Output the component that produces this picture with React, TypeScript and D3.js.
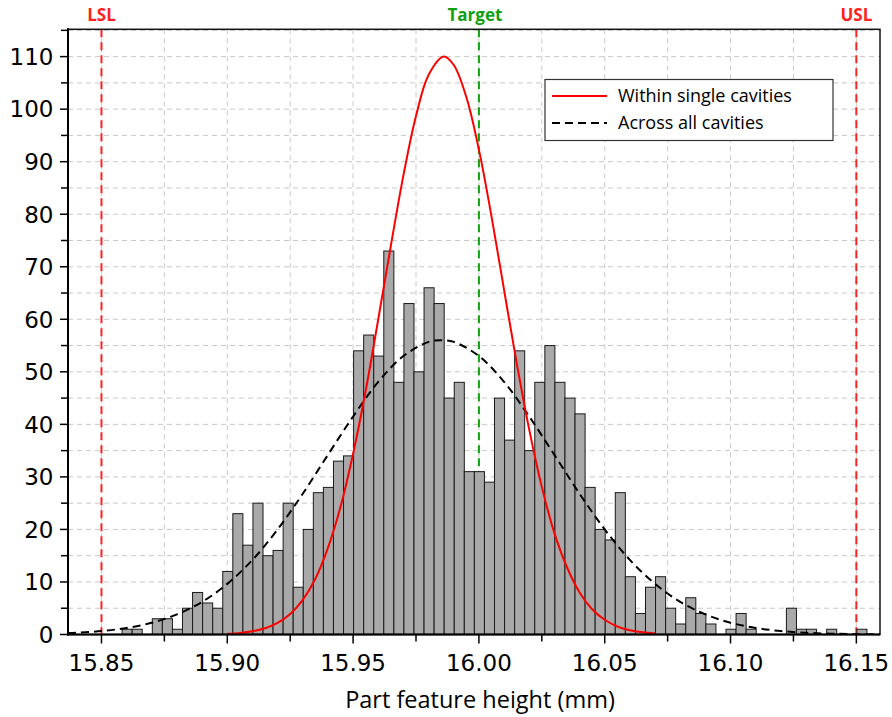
import React from "react"
import * as d3 from "d3"

// histogram bins (mm), counts
const binStart = 15.8582
const binWidth = 0.004
const binCounts = [
    1, 1, 0, 3, 3, 1, 5, 8, 6, 5,
    12, 23, 17, 25, 15, 16, 25, 9, 20, 27,
    28, 33, 34, 54, 57, 53, 73, 48, 63, 50,
    66, 63, 45, 48, 31, 31, 29, 45, 37, 54,
    35, 48, 55, 48, 45, 42, 28, 20, 18, 27,
    11, 4, 9, 11, 5, 2, 7, 4, 2, 0,
    1, 4, 1, 0, 0, 0, 5, 1, 1, 0,
    1, 0, 0, 1,
]

// fitted curve "Within single cavities"
const withinX = [
    15.9, 15.905, 15.91, 15.915, 15.92, 15.925, 15.93, 15.935, 15.94, 15.945,
    15.95, 15.955, 15.96, 15.965, 15.97, 15.975, 15.98, 15.986, 15.99, 15.995,
    16.0, 16.005, 16.01, 16.015, 16.02, 16.025, 16.03, 16.035, 16.04, 16.045,
    16.05, 16.055, 16.06, 16.065, 16.07,
]
const withinY = [
    0.14, 0.3, 0.62, 1.19, 2.2, 3.89, 6.59, 10.6, 16.5, 24.3,
    34.4, 46.4, 60.0, 74.0, 87.4, 98.7, 106.5, 110.0, 108.4, 102.3,
    92.3, 79.6, 65.6, 51.7, 39.0, 28.1, 19.3, 12.8, 8.0, 4.8,
    2.8, 1.53, 0.81, 0.41, 0.2,
]

// fitted curve "Across all cavities"
const acrossX = [
    15.8367, 15.84, 15.85, 15.86, 15.87, 15.88, 15.89, 15.9, 15.91, 15.92,
    15.93, 15.94, 15.95, 15.96, 15.97, 15.98, 15.985, 15.99, 16.0, 16.01,
    16.02, 16.03, 16.04, 16.05, 16.06, 16.07, 16.08, 16.09, 16.1, 16.11,
    16.12, 16.13, 16.14, 16.15, 16.1594,
]
const acrossY = [
    0.27, 0.33, 0.66, 1.24, 2.23, 3.82, 6.21, 9.64, 14.2, 20.0,
    26.8, 34.2, 41.5, 48.1, 53.0, 55.7, 56.0, 55.7, 53.0, 48.1,
    41.5, 34.2, 26.8, 20.0, 14.2, 9.64, 6.21, 3.82, 2.23, 1.24,
    0.66, 0.33, 0.16, 0.07, 0.03,
]

const specLabels = ["LSL", "Target", "USL"]
const specValues = [15.85, 16.0, 16.15]

const xTicks = [15.85, 15.9, 15.95, 16.0, 16.05, 16.1, 16.15]
const xMinorTicks = [15.875, 15.925, 15.975, 16.025, 16.075, 16.125]
const yTicks = [0, 10, 20, 30, 40, 50, 60, 70, 80, 90, 100, 110]
const yMinorTicks = [5, 15, 25, 35, 45, 55, 65, 75, 85, 95, 105, 115]

const legendLabels = ["Within single cavities", "Across all cavities"]

const W = 892
const H = 717
const margin = { top: 29.3, right: 12, bottom: 82.5, left: 68 }

const App = () => {
    const x = d3
        .scaleLinear()
        .domain([15.8367, 16.1594])
        .range([margin.left, W - margin.right])
    const y = d3
        .scaleLinear()
        .domain([0, 115.2])
        .range([H - margin.bottom, margin.top])

    const left = margin.left
    const right = W - margin.right
    const top = margin.top
    const bottom = H - margin.bottom

    const bins = binCounts.map((c, i) => ({
        x0: binStart + i * binWidth,
        x1: binStart + (i + 1) * binWidth,
        count: c,
    }))

    const line = d3
        .line<[number, number]>()
        .x((d) => x(d[0]))
        .y((d) => y(d[1]))
        .curve(d3.curveCatmullRom.alpha(0.5))

    const withinPath = line(withinX.map((v, i) => [v, withinY[i]]))
    const acrossPath = line(acrossX.map((v, i) => [v, acrossY[i]]))

    const specColors = ["#ff2020", "#10a010", "#ff2020"]
    const gridX = d3.range(0, 13).map((i) => 15.85 + i * 0.025)
    const gridY = d3.range(5, 116, 5)

    const tickFont = "'DejaVu Sans', sans-serif"
    const textFont = "'Open Sans', sans-serif"

    return (
        <svg
            width={W}
            height={H}
            style={{ position: "absolute", left: 0, top: 0, background: "#fff" }}
        >
            <defs>
                <clipPath id="plot">
                    <rect x={left} y={top} width={right - left} height={bottom - top} />
                </clipPath>
            </defs>

            {/* grid */}
            <g stroke="#c8c8c8" strokeWidth={1} strokeDasharray="5,4">
                {gridX.map((v) => (
                    <line key={"gx" + v} x1={x(v)} x2={x(v)} y1={top} y2={bottom} />
                ))}
                {gridY.map((v) => (
                    <line key={"gy" + v} x1={left} x2={right} y1={y(v)} y2={y(v)} />
                ))}
            </g>

            {/* spec limit lines */}
            {specValues.map((v, i) => (
                <line
                    key={"spec" + i}
                    x1={x(v)}
                    x2={x(v)}
                    y1={top}
                    y2={bottom}
                    stroke={specColors[i]}
                    strokeWidth={2}
                    strokeDasharray="8,5"
                />
            ))}

            {/* histogram */}
            <g fill="#a9a9a9" stroke="#1a1a1a" strokeWidth={1}>
                {bins
                    .filter((b) => b.count > 0)
                    .map((b, i) => (
                        <rect
                            key={"bar" + i}
                            x={x(b.x0)}
                            y={y(b.count)}
                            width={x(b.x1) - x(b.x0)}
                            height={y(0) - y(b.count)}
                        />
                    ))}
            </g>

            {/* fitted curves */}
            <g clipPath="url(#plot)" fill="none">
                <path d={acrossPath || ""} stroke="#000" strokeWidth={2} strokeDasharray="8,5" />
                <path d={withinPath || ""} stroke="#ff0000" strokeWidth={2} />
            </g>

            {/* frame */}
            <rect
                x={left}
                y={top}
                width={right - left}
                height={bottom - top}
                fill="none"
                stroke="#111"
                strokeWidth={1.5}
            />
            <line x1={left} x2={left} y1={top - 1} y2={bottom + 1} stroke="#000" strokeWidth={2} />
            <line x1={left - 1} x2={right} y1={bottom} y2={bottom} stroke="#000" strokeWidth={2} />

            {/* x axis */}
            <g stroke="#000" strokeWidth={1.5}>
                {xTicks.map((v) => (
                    <line key={"xt" + v} x1={x(v)} x2={x(v)} y1={bottom} y2={bottom + 9} />
                ))}
                {xMinorTicks.map((v) => (
                    <line key={"xm" + v} x1={x(v)} x2={x(v)} y1={bottom} y2={bottom + 7} />
                ))}
            </g>
            <g fontFamily={tickFont} fontSize={23} fill="#000" textAnchor="middle">
                {xTicks.map((v) => (
                    <text key={"xl" + v} x={x(v)} y={671}>
                        {d3.format(".2f")(v)}
                    </text>
                ))}
            </g>
            <text
                x={(left + right) / 2 + 6}
                y={708}
                textAnchor="middle"
                fontFamily={textFont}
                fontSize={23.5}
                fill="#000"
            >
                Part feature height (mm)
            </text>

            {/* y axis */}
            <g stroke="#000" strokeWidth={1.5}>
                {yTicks.map((v) => (
                    <line key={"yt" + v} x1={left - 8} x2={left} y1={y(v)} y2={y(v)} />
                ))}
                {yMinorTicks.map((v) => (
                    <line key={"ym" + v} x1={left - 7} x2={left} y1={y(v)} y2={y(v)} />
                ))}
            </g>
            <g fontFamily={tickFont} fontSize={23} fill="#000" textAnchor="end">
                {yTicks.map((v) => (
                    <text key={"yl" + v} x={53.5} y={y(v)} dy="0.36em">
                        {v}
                    </text>
                ))}
            </g>

            {/* spec labels */}
            <g fontFamily={textFont} fontWeight="bold" fontSize={17} textAnchor="middle">
                {specLabels.map((s, i) => (
                    <text
                        key={"sl" + s}
                        x={x(specValues[i]) + (s === "Target" ? -4 : 0)}
                        y={21}
                        fill={specColors[i]}
                    >
                        {s}
                    </text>
                ))}
            </g>

            {/* legend */}
            <g>
                <rect x={545} y={79.5} width={288} height={61} fill="#fff" stroke="#333" strokeWidth={1.2} />
                <line x1={552} x2={607} y1={96} y2={96} stroke="#ff0000" strokeWidth={2} />
                <line x1={552} x2={607} y1={123} y2={123} stroke="#000" strokeWidth={2} strokeDasharray="8,5" />
                <g fontFamily={textFont} fontSize={18} fill="#000">
                    {legendLabels.map((t, i) => (
                        <text key={t} x={618} y={96 + i * 27} dy="0.35em">
                            {t}
                        </text>
                    ))}
                </g>
            </g>
        </svg>
    )
}

export default App
